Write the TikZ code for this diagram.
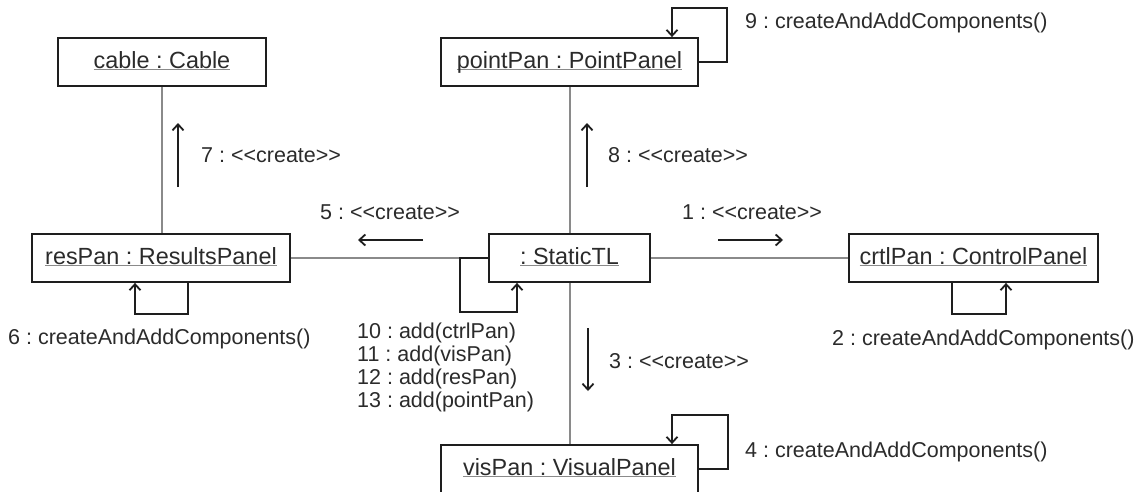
\documentclass[tikz,border=0pt]{standalone}
\usepackage{tikz}
\usepackage{fontspec}
\setmainfont{Liberation Sans}
\usetikzlibrary{arrows.meta}
\frenchspacing
\definecolor{boxc}{HTML}{1E1E1E}
\definecolor{txtc}{HTML}{2B2B2B}
\definecolor{linkc}{HTML}{8A8A8A}
\newcommand\ulintext[1]{\setbox0\hbox{#1}\rlap{\textcolor{linkc}{\rule[-2pt]{\wd0}{1.3pt}}}\box0}
\newcommand\dlt{<\kern0pt<}
\newcommand\dgt{>\kern0pt>}
\begin{document}
\begin{tikzpicture}[x=1pt,y=-1pt,
  obj/.style={draw=boxc, line width=1.8pt, minimum height=48pt, inner sep=0pt,
    font=\fontsize{23.4}{26}\selectfont, text=txtc, text height=17pt, text depth=5pt, fill=white},
  lbl/.style={font=\fontsize{21.5}{23}\selectfont, text=txtc, inner sep=0pt,
    text height=15.5pt, text depth=0pt, anchor=west},
  link/.style={draw=linkc, line width=1.5pt},
  loopl/.style={draw=boxc, line width=1.8pt, -{Straight Barb[length=6pt,width=11pt]}},
  msg/.style={draw=boxc, line width=1.8pt, -{Straight Barb[length=6pt,width=11pt]}}
]
\useasboundingbox[fill=white] (0,0) rectangle (1136,491);

\coordinate (cableX) at (162,0);
\coordinate (midX) at (570,0);

\node[obj, minimum width=208pt] (cable) at (162,62) {\ulintext{cable : Cable}};
\node[obj, minimum width=257pt] (point) at (569.5,62) {\ulintext{pointPan : PointPanel}};
\node[obj, minimum width=258pt] (res) at (161,258) {\ulintext{resPan : ResultsPanel}};
\node[obj, minimum width=161pt] (stl) at (569.5,258) {\ulintext{: StaticTL}};
\node[obj, minimum width=249pt] (ctrl) at (973.5,258) {\ulintext{crtlPan : ControlPanel}};
\node[obj, minimum width=257pt] (vis) at (569.5,469) {\ulintext{visPan : VisualPanel}};

% links
\draw[link] (cable.south -| cableX) -- (res.north -| cableX);
\draw[link] (point.south -| midX) -- (stl.north -| midX);
\draw[link] (stl.south -| midX) -- (vis.north -| midX);
\draw[link] (res.east) -- (stl.west);
\draw[link] (stl.east) -- (ctrl.west);

% self loops
\coordinate (p9a) at (727,8);  \coordinate (p9b) at (672,8);
\draw[loopl] (point.east) -- (point.east -| p9a) -- (p9a) -- (p9b) -- (p9b |- point.north);
\coordinate (s10a) at (460,312); \coordinate (s10b) at (517,312);
\draw[loopl] (stl.west) -- (stl.west -| s10a) -- (s10a) -- (s10b) -- (s10b |- stl.south);
\coordinate (r6a) at (188,314); \coordinate (r6b) at (135,314);
\draw[loopl] (r6a |- res.south) -- (r6a) -- (r6b) -- (r6b |- res.south);
\coordinate (c2a) at (952,314); \coordinate (c2b) at (1006,314);
\draw[loopl] (c2a |- ctrl.south) -- (c2a) -- (c2b) -- (c2b |- ctrl.south);
\coordinate (v4a) at (728,415); \coordinate (v4b) at (672,415);
\draw[loopl] (vis.east) -- (vis.east -| v4a) -- (v4a) -- (v4b) -- (v4b |- vis.north);

% message arrows
\coordinate (m7s) at (178,187); \coordinate (m7e) at (178,123);
\coordinate (m8s) at (587,187); \coordinate (m8e) at (587,123);
\coordinate (m5s) at (423,240); \coordinate (m5e) at (358,240);
\coordinate (m1s) at (718,240); \coordinate (m1e) at (783,240);
\coordinate (m3s) at (588,328); \coordinate (m3e) at (588,391);
\draw[msg] (m7s) -- (m7e);
\draw[msg] (m8s) -- (m8e);
\draw[msg] (m5s) -- (m5e);
\draw[msg] (m1s) -- (m1e);
\draw[msg] (m3s) -- (m3e);

% labels
\node[lbl] (l7) at (201,155) {7 : \dlt create\dgt};
\node[lbl] (l8) at (608,155) {8 : \dlt create\dgt};
\node[lbl] (l5) at (320,212) {5 : \dlt create\dgt};
\node[lbl] (l1) at (682,212) {1 : \dlt create\dgt};
\node[lbl] (l3) at (609,361) {3 : \dlt create\dgt};
\node[lbl] (l9) at (745,21) {9 : createAndAddComponents()};
\node[lbl] (l4) at (745,450) {4 : createAndAddComponents()};
\node[lbl] (l6) at (8,337) {6 : createAndAddComponents()};
\node[lbl] (l2) at (832,338) {2 : createAndAddComponents()};
\node[lbl] (l10) at (357,331) {10 : add(ctrlPan)};
\node[lbl] (l11) at (357,354) {11 : add(visPan)};
\node[lbl] (l12) at (357,377) {12 : add(resPan)};
\node[lbl] (l13) at (357,400) {13 : add(pointPan)};
\end{tikzpicture}
\end{document}
